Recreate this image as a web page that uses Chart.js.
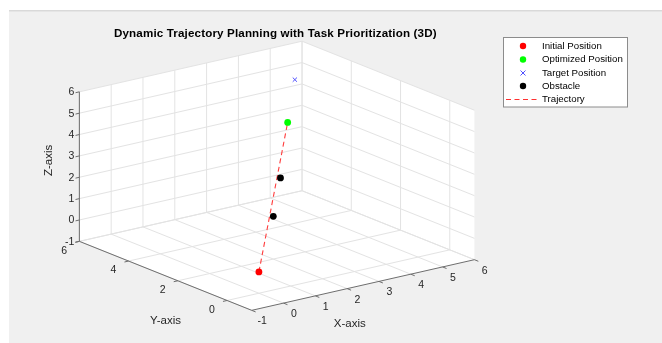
<!DOCTYPE html>
<html>
<head>
<meta charset="utf-8">
<script src="https://cdn.jsdelivr.net/npm/chart.js@4.4.1/dist/chart.umd.min.js"></script>
<style>
  html, body { margin: 0; padding: 0; background: #ffffff; }
  canvas { display: block; }
</style>
</head>
<body>
<canvas id="chart" width="662" height="343"></canvas>
<script>
// ---- Axis limits and ticks ----
const xLimits = [-1, 6];
const yLimits = [-1, 6];
const zLimits = [-1, 6];
const xTicks = [-1, 0, 1, 2, 3, 4, 5, 6];
const yTicks = [0, 2, 4, 6];
const zTicks = [-1, 0, 1, 2, 3, 4, 5, 6];

// ---- Positions (x, y, z) ----
const initialPosition = [0, 0, 0];
const optimizedPosition = [4, 4, 3.8];
const targetPosition = [5, 5, 5];
const obstacles = [[2, 2, 1], [3, 3, 2]];
const trajectory = [initialPosition, optimizedPosition];

// ---- Text ----
const titleText = 'Dynamic Trajectory Planning with Task Prioritization (3D)';
const axisTitles = { x: 'X-axis', y: 'Y-axis', z: 'Z-axis' };
const legendLabels = ['Initial Position', 'Optimized Position', 'Target Position', 'Obstacle', 'Trajectory'];

// ---- Orthographic view: screen position of the (xmin, ymin, zmin) corner
//      and the screen step of one data unit along each axis ----
const view = {
  ox: 250.5, oy: 314.5,
  ex: [32.3, -7.45],
  ey: [-25.0, -10.15],
  ez: [0, -22.0]
};

function project(p) {
  const dx = p[0] - xLimits[0], dy = p[1] - yLimits[0], dz = p[2] - zLimits[0];
  return {
    x: view.ox + dx * view.ex[0] + dy * view.ey[0] + dz * view.ez[0],
    y: view.oy + dx * view.ex[1] + dy * view.ey[1] + dz * view.ez[1]
  };
}

// Build a polyline set (gaps between segments) from 3D segment pairs
function segments(list) {
  const out = [];
  list.forEach(([a, b]) => { out.push(project(a), project(b), { x: null, y: null }); });
  return out;
}

// Grid lines on the floor (z = zmin), back wall (y = ymax) and side wall (x = xmax)
const gridSegs = [];
xTicks.forEach(x => gridSegs.push([[x, yLimits[0], zLimits[0]], [x, yLimits[1], zLimits[0]]]));
yTicks.forEach(y => gridSegs.push([[xLimits[0], y, zLimits[0]], [xLimits[1], y, zLimits[0]]]));
xTicks.forEach(x => gridSegs.push([[x, yLimits[1], zLimits[0]], [x, yLimits[1], zLimits[1]]]));
zTicks.forEach(z => gridSegs.push([[xLimits[0], yLimits[1], z], [xLimits[1], yLimits[1], z]]));
yTicks.forEach(y => gridSegs.push([[xLimits[1], y, zLimits[0]], [xLimits[1], y, zLimits[1]]]));
zTicks.forEach(z => gridSegs.push([[xLimits[1], yLimits[0], z], [xLimits[1], yLimits[1], z]]));

// Axis lines with short outward ticks
const axisSegs = [
  [[xLimits[0], yLimits[0], zLimits[0]], [xLimits[1], yLimits[0], zLimits[0]]],
  [[xLimits[0], yLimits[0], zLimits[0]], [xLimits[0], yLimits[1], zLimits[0]]],
  [[xLimits[0], yLimits[1], zLimits[0]], [xLimits[0], yLimits[1], zLimits[1]]]
];
xTicks.forEach(x => axisSegs.push([[x, yLimits[0], zLimits[0]], [x, yLimits[0] - 0.16, zLimits[0]]]));
yTicks.forEach(y => axisSegs.push([[xLimits[0], y, zLimits[0]], [xLimits[0] - 0.13, y, zLimits[0]]]));
zTicks.forEach(z => axisSegs.push([[xLimits[0], yLimits[1], z], [xLimits[0] - 0.12, yLimits[1], z]]));

const W = 662, H = 343;
const FONT = '"Liberation Sans", Arial, Helvetica, sans-serif';

// Figure background, walls of the plot box, tick labels and titles
const backdropPlugin = {
  id: 'backdrop',
  beforeDraw(chart) {
    const ctx = chart.ctx;
    ctx.save();
    ctx.fillStyle = '#ffffff';
    ctx.fillRect(0, 0, W, H);
    ctx.fillStyle = '#f0f0f0';
    ctx.fillRect(9, 10, W - 9, H - 10);
    ctx.fillStyle = '#d9d9d9';
    ctx.fillRect(9, 10, W - 9, 1.5);
    ctx.restore();
  },
  beforeDatasetsDraw(chart) {
    const ctx = chart.ctx, sx = chart.scales.x, sy = chart.scales.y;
    const px = p => { const q = project(p); return [sx.getPixelForValue(q.x), sy.getPixelForValue(q.y)]; };
    const [x0, x1] = xLimits, [y0, y1] = yLimits, [z0, z1] = zLimits;
    const faces = [
      [[x0, y0, z0], [x1, y0, z0], [x1, y1, z0], [x0, y1, z0]],
      [[x0, y1, z0], [x1, y1, z0], [x1, y1, z1], [x0, y1, z1]],
      [[x1, y0, z0], [x1, y1, z0], [x1, y1, z1], [x1, y0, z1]]
    ];
    ctx.save();
    ctx.fillStyle = '#ffffff';
    faces.forEach(f => {
      ctx.beginPath();
      f.forEach((p, i) => { const [a, b] = px(p); i ? ctx.lineTo(a, b) : ctx.moveTo(a, b); });
      ctx.closePath();
      ctx.fill();
    });
    ctx.restore();
  },
  afterDatasetsDraw(chart) {
    const ctx = chart.ctx, sx = chart.scales.x, sy = chart.scales.y;
    const px = p => { const q = project(p); return [sx.getPixelForValue(q.x), sy.getPixelForValue(q.y)]; };
    ctx.save();
    ctx.fillStyle = '#262626';
    ctx.font = '10.5px ' + FONT;
    ctx.textBaseline = 'middle';

    // x tick labels
    ctx.textAlign = 'center';
    xTicks.forEach(x => {
      const [a, b] = px([x, yLimits[0] - 0.42, zLimits[0]]);
      ctx.fillText(String(x), a, b + 7);
    });
    // y tick labels
    yTicks.forEach(y => {
      const [a, b] = px([xLimits[0] - 0.48, y, zLimits[0]]);
      ctx.fillText(String(y), a, b + 6);
    });
    // z tick labels
    ctx.textAlign = 'right';
    zTicks.forEach(z => {
      const [a, b] = px([xLimits[0], yLimits[1], z]);
      ctx.fillText(String(z), a - 5, b + 0.5);
    });

    // axis titles
    ctx.font = '11.5px ' + FONT;
    ctx.textAlign = 'center';
    ctx.fillText(axisTitles.x, sx.getPixelForValue(350), sy.getPixelForValue(328));
    ctx.fillText(axisTitles.y, sx.getPixelForValue(163), sy.getPixelForValue(325));
    ctx.save();
    ctx.translate(sx.getPixelForValue(45), sy.getPixelForValue(160));
    ctx.rotate(-Math.PI / 2);
    ctx.fillText(axisTitles.z, 0, 0);
    ctx.restore();

    // title
    ctx.fillStyle = '#000000';
    ctx.font = 'bold 11.6px ' + FONT;
    ctx.letterSpacing = '0.15px';
    ctx.textBaseline = 'alphabetic';
    ctx.fillText(titleText, sx.getPixelForValue(274.5), sy.getPixelForValue(33.3));
    ctx.restore();
  }
};

// Legend box in the upper right
const legendPlugin = {
  id: 'boxLegend',
  afterDraw(chart) {
    const ctx = chart.ctx;
    const left = 503.5, top = 37.5, w = 124, h = 69.5;
    ctx.save();
    ctx.fillStyle = '#ffffff';
    ctx.fillRect(left, top, w, h);
    ctx.strokeStyle = '#8c8c8c';
    ctx.lineWidth = 1;
    ctx.strokeRect(left, top, w, h);
    const rows = [46, 59.5, 73, 86, 99.5];
    const mx = 523, tx = 542;
    ctx.font = '9.7px ' + FONT;
    ctx.fillStyle = '#000000';
    ctx.textAlign = 'left';
    ctx.textBaseline = 'middle';
    legendLabels.forEach((lab, i) => ctx.fillText(lab, tx, rows[i]));
    // markers
    const dot = (y, c) => { ctx.beginPath(); ctx.arc(mx, y, 3.2, 0, Math.PI * 2); ctx.fillStyle = c; ctx.fill(); };
    dot(rows[0], '#ff0000');
    dot(rows[1], '#00ff00');
    dot(rows[3], '#000000');
    ctx.strokeStyle = '#5050ff';
    ctx.beginPath();
    ctx.moveTo(mx - 2.5, rows[2] - 2.5); ctx.lineTo(mx + 2.5, rows[2] + 2.5);
    ctx.moveTo(mx + 2.5, rows[2] - 2.5); ctx.lineTo(mx - 2.5, rows[2] + 2.5);
    ctx.stroke();
    ctx.strokeStyle = '#ff3030';
    ctx.setLineDash([5, 3.5]);
    ctx.beginPath();
    ctx.moveTo(506, rows[4]); ctx.lineTo(540, rows[4]);
    ctx.stroke();
    ctx.restore();
  }
};

new Chart(document.getElementById('chart'), {
  type: 'scatter',
  data: {
    datasets: [
      {
        label: legendLabels[2],
        data: [project(targetPosition)],
        pointStyle: 'crossRot', pointRadius: 3, borderColor: '#5050ff', borderWidth: 1,
        backgroundColor: '#5050ff'
      },
      {
        label: legendLabels[1],
        data: [project(optimizedPosition)],
        pointRadius: 3.4, backgroundColor: '#00ff00', borderColor: '#00ff00', borderWidth: 0
      },
      {
        label: legendLabels[0],
        data: [project(initialPosition)],
        pointRadius: 3.4, backgroundColor: '#ff0000', borderColor: '#ff0000', borderWidth: 0
      },
      {
        label: legendLabels[3],
        data: obstacles.map(project),
        pointRadius: 3.4, backgroundColor: '#000000', borderColor: '#000000', borderWidth: 0
      },
      {
        label: legendLabels[4],
        data: trajectory.map(project),
        showLine: true, pointRadius: 0, borderColor: '#ff3c3c', borderWidth: 1.1,
        borderDash: [5, 3.5]
      },
      {
        label: 'axes',
        data: segments(axisSegs),
        showLine: true, spanGaps: false, pointRadius: 0, borderColor: '#6e6e6e', borderWidth: 1
      },
      {
        label: 'grid',
        data: segments(gridSegs),
        showLine: true, spanGaps: false, pointRadius: 0, borderColor: '#e3e3e3', borderWidth: 1
      }
    ]
  },
  options: {
    responsive: false,
    animation: false,
    events: [],
    layout: { padding: 0 },
    plugins: { legend: { display: false }, tooltip: { enabled: false }, title: { display: false } },
    scales: {
      x: { type: 'linear', min: 0, max: W, display: false },
      y: { type: 'linear', min: 0, max: H, reverse: true, display: false }
    }
  },
  plugins: [backdropPlugin, legendPlugin]
});
</script>
</body>
</html>
